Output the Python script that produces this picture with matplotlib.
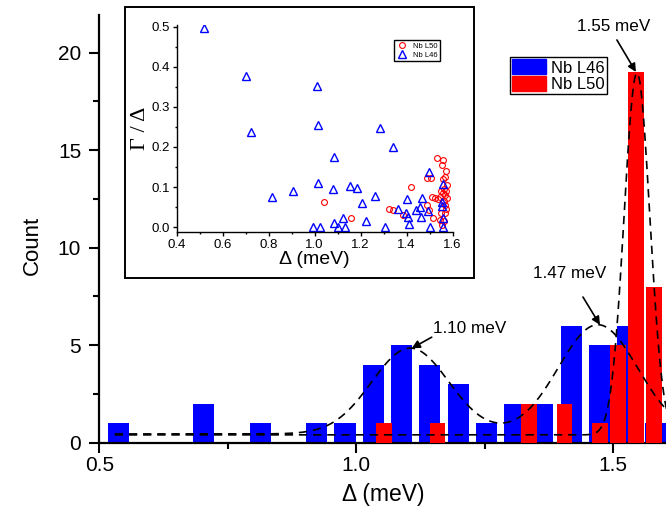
import numpy as np
import matplotlib.pyplot as plt
from matplotlib.patches import Patch, Rectangle
from matplotlib.ticker import MultipleLocator

plt.rcParams['font.family'] = ['Liberation Sans', 'DejaVu Sans']

# histogram of gap values (bin centre in meV, count)
l46_centers = [0.538, 0.703, 0.813, 0.923, 0.978, 1.033, 1.088, 1.143, 1.198,
               1.253, 1.308, 1.363, 1.418, 1.473, 1.528, 1.583]
l46_counts = [1, 2, 1, 1, 1, 4, 5, 4, 3, 1, 2, 2, 6, 5, 6, 1]
l50_centers = [1.054, 1.158, 1.336, 1.405, 1.474, 1.509, 1.544, 1.579]
l50_counts = [1, 1, 2, 2, 1, 5, 19, 8]

# gaussian fits: baseline and (centre, amplitude, sigma)
l46_base = 0.45
l46_peaks = [(1.105, 4.4, 0.075), (1.47, 5.6, 0.077)]
l50_base = 0.40
l50_peaks = [(1.546, 18.55, 0.025)]

# inset: Gamma/Delta vs Delta
l46_gap = [0.519, 0.701, 0.722, 0.813, 0.907, 0.994, 1.009, 1.016, 1.016, 1.023,
           1.081, 1.084, 1.085, 1.103, 1.122, 1.132, 1.153, 1.185, 1.204, 1.223,
           1.262, 1.284, 1.306, 1.339, 1.364, 1.397, 1.403, 1.404, 1.411, 1.440,
           1.458, 1.461, 1.465, 1.494, 1.497, 1.501, 1.552, 1.555, 1.557, 1.557,
           1.559]
l46_ratio = [0.497, 0.378, 0.237, 0.074, 0.090, 0.000, 0.353, 0.254, 0.109, 0.000,
             0.094, 0.009, 0.176, 0.000, 0.022, 0.000, 0.102, 0.098, 0.061, 0.015,
             0.078, 0.247, 0.000, 0.201, 0.045, 0.034, 0.069, 0.024, 0.008, 0.043,
             0.049, 0.024, 0.072, 0.041, 0.138, 0.000, 0.053, 0.063, 0.108, 0.000,
             0.022]
l50_gap = [1.042, 1.157, 1.324, 1.342, 1.383, 1.417, 1.487, 1.490, 1.498, 1.504,
           1.509, 1.516, 1.523, 1.533, 1.537, 1.545, 1.545, 1.552, 1.552, 1.557,
           1.559, 1.567, 1.567, 1.567, 1.571, 1.574, 1.574, 1.560, 1.565, 1.550,
           1.562, 1.570, 1.548, 1.563, 1.556, 1.569]
l50_ratio = [0.063, 0.022, 0.044, 0.043, 0.030, 0.101, 0.055, 0.122, 0.043, 0.122,
             0.074, 0.023, 0.072, 0.172, 0.069, 0.074, 0.018, 0.155, 0.005, 0.168,
             0.084, 0.126, 0.055, 0.034, 0.091, 0.072, 0.105, 0.095, 0.080, 0.090,
             0.065, 0.045, 0.035, 0.015, 0.120, 0.140]

W, H = 666, 514
fig = plt.figure(figsize=(W / 100, H / 100), dpi=100)

# ---- main histogram
ax = fig.add_axes([99.3 / W, 71.3 / H, (W - 99.3) / W, 427.7 / H])
ax.bar(l46_centers, l46_counts, width=0.041, color='#0000ff', zorder=2)
ax.bar(l50_centers, l50_counts, width=0.030, color='#ff0000', zorder=3)

xs = np.linspace(0.53, 1.62, 800)
for base, peaks in [(l46_base, l46_peaks), (l50_base, l50_peaks)]:
    ys = base + sum(a * np.exp(-(xs - c) ** 2 / (2 * s ** 2)) for c, a, s in peaks)
    ax.plot(xs, ys, color='black', lw=1.2, ls=(0, (5, 3.5)), zorder=4)

ax.set_xlim(0.5, 0.5 + (W - 99.3) / 514)
ax.set_ylim(0, 21.93)
ax.xaxis.set_major_locator(MultipleLocator(0.5))
ax.xaxis.set_minor_locator(MultipleLocator(0.25))
ax.yaxis.set_major_locator(MultipleLocator(5))
ax.yaxis.set_minor_locator(MultipleLocator(2.5))
ax.spines[['top', 'right']].set_visible(False)
for s in ['left', 'bottom']:
    ax.spines[s].set_linewidth(1.6)
ax.tick_params(which='major', length=7, width=1.5, labelsize=15)
ax.tick_params(which='minor', length=4, width=1.5)
ax.tick_params(axis='x', pad=2.5)
ax.tick_params(axis='y', pad=6)
ax.xaxis.set_major_formatter(lambda v, p: f'{v:.1f}')

fig.text(32 / W, 1 - 245 / H, 'Count', rotation=90, ha='center', va='center', fontsize=16)
fig.text(383 / W, 1 - 494 / H, 'Δ (meV)', ha='center', va='center', fontsize=16.5)

# peak labels
notes = [('1.10 meV', (1.149, 5.87), (1.1467, 5.41), (1.1078, 4.84)),
         ('1.47 meV', (1.344, 8.69), (1.441, 7.47), (1.474, 6.04)),
         ('1.55 meV', (1.429, 21.33), (1.507, 20.65), (1.544, 19.01))]
for txt, tpos, tail, tip in notes:
    ax.text(tpos[0], tpos[1], txt, ha='left', va='center', fontsize=12.3, zorder=6)
    ax.annotate('', xy=tip, xytext=tail, zorder=6,
                arrowprops=dict(arrowstyle='-|>', color='black', lw=1.2,
                                mutation_scale=12, shrinkA=0, shrinkB=0))

handles = [Patch(color='#0000ff'), Patch(color='#ff0000')]
fig.legend(handles, ['Nb L46', 'Nb L50'], loc='upper left',
           bbox_to_anchor=(510 / W, 1 - 57 / H), fontsize=12, frameon=True,
           fancybox=False, edgecolor='black', framealpha=1, handlelength=2.0,
           handleheight=1.0, labelspacing=0.0, borderpad=0.15, handletextpad=0.3,
           borderaxespad=0)

# ---- inset
frame = Rectangle((125 / W, 1 - 278 / H), (474 - 125) / W, (278 - 7) / H,
                  transform=fig.transFigure, facecolor='white', edgecolor='black',
                  lw=1.4, zorder=5)
fig.add_artist(frame)

ax2 = fig.add_axes([176.7 / W, 1 - 232 / H, 276 / W, 207 / H])
ax2.set_zorder(6)
ax2.patch.set_alpha(0)
ax2.plot(l50_gap, l50_ratio, 'o', mfc='none', mec='#ff0000', ms=4.2, mew=0.8,
         label='Nb L50')
ax2.plot(l46_gap, l46_ratio, '^', mfc='none', mec='#0000ff', ms=5.8, mew=1.0,
         label='Nb L46')
ax2.set_xlim(0.4, 1.6)
ax2.set_ylim(-0.0125, 0.505)
ax2.xaxis.set_major_locator(MultipleLocator(0.2))
ax2.xaxis.set_minor_locator(MultipleLocator(0.1))
ax2.yaxis.set_major_locator(MultipleLocator(0.1))
ax2.yaxis.set_minor_locator(MultipleLocator(0.05))
ax2.spines[['top', 'right']].set_visible(False)
for s in ['left', 'bottom']:
    ax2.spines[s].set_linewidth(1.0)
ax2.tick_params(which='major', length=3, width=1.0, labelsize=9.5, pad=2)
ax2.tick_params(which='minor', length=1.5, width=1.0)
ax2.xaxis.set_major_formatter(lambda v, p: f'{v:.1f}')
ax2.yaxis.set_major_formatter(lambda v, p: f'{v:.1f}')
ax2.set_xlabel('Δ (meV)', fontsize=14, labelpad=0)
ax2.set_ylabel('Γ / Δ', fontsize=16, family=['Liberation Serif', 'DejaVu Serif'],
               labelpad=1)
ax2.legend(loc='upper left', bbox_to_anchor=(394 / W, 1 - 40 / H),
           bbox_transform=fig.transFigure, fontsize=5.5, frameon=True, fancybox=False,
           edgecolor='black', framealpha=1, handlelength=1.6, borderpad=0.3,
           labelspacing=0.2, handletextpad=0.6, borderaxespad=0)

fig.savefig('out.png', dpi=100)
